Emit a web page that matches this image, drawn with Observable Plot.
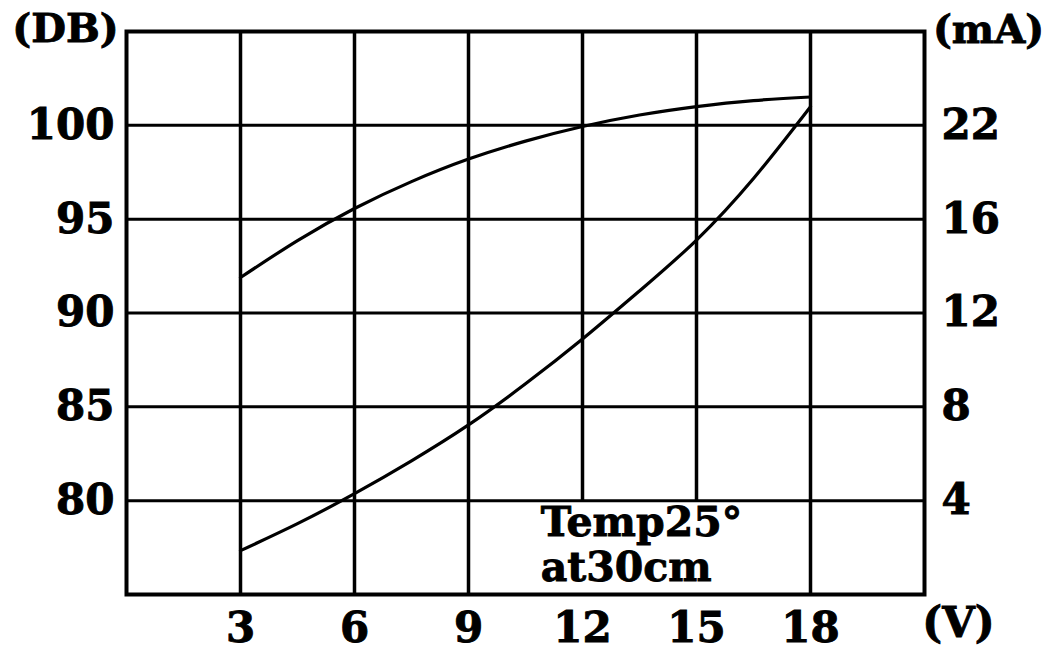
<!DOCTYPE html>
<html>
<head>
<meta charset="utf-8">
<script src="https://cdn.jsdelivr.net/npm/d3@7"></script>
<script src="https://cdn.jsdelivr.net/npm/@observablehq/plot@0.6"></script>
<style>
  html, body { margin: 0; padding: 0; background: #fff; }
  svg { display: block; }
  svg text { stroke: #000; stroke-width: 0.9px; }
</style>
</head>
<body>
<div id="chart"></div>
<script>
// ---- data ----
const volts = [3, 4.5, 6, 7.5, 9, 10.5, 12, 13.5, 15, 16.5, 18];
const splDb = [91.89, 93.86, 95.57, 97.0, 98.2, 99.16, 99.94, 100.55, 101.0, 101.32, 101.51];
const currentMa = [1.87, 3.02, 4.30, 5.70, 7.23, 8.98, 10.89, 12.94, 15.11, 18.6, 23.19];

const xTicks = [3, 6, 9, 12, 15, 18];
const dbTicks = [80, 85, 90, 95, 100];
const maTicks = [4, 8, 12, 16, 22];
const noteText = ["Temp25°", "at30cm"];
const unitLabels = { left: "(DB)", right: "(mA)", bottom: "(V)" };

// right-axis (mA) labels sit on the dB gridlines: piecewise mapping
const maToDb = d3.scaleLinear().domain([0, ...maTicks]).range([75, ...dbTicks]);
const dbToMa = new Map(dbTicks.map((d, i) => [d, maTicks[i]]));

const splData = volts.map((v, i) => ({ v, y: splDb[i] }));
const curData = volts.map((v, i) => ({ v, y: maToDb(currentMa[i]) }));

const FONT = "DejaVu Serif";
const FS = 42;

const chart = Plot.plot({
  width: 1058,
  height: 653,
  marginLeft: 126,
  marginRight: 134,
  marginTop: 31,
  marginBottom: 59,
  style: { fontFamily: FONT, fontWeight: "bold", fontSize: FS + "px", color: "#000", background: "#fff" },
  x: { domain: [0, 21] },
  y: { domain: [75, 105] },
  marks: [
    Plot.ruleX(xTicks, { stroke: "#000", strokeWidth: 3.5 }),
    Plot.rect([{ x1: 10.3, x2: 16.8, y1: 75, y2: 80 }], { x1: "x1", x2: "x2", y1: "y1", y2: "y2", fill: "#fff" }),
    Plot.ruleY(dbTicks, { stroke: "#000", strokeWidth: 3 }),
    Plot.frame({ stroke: "#000", strokeWidth: 4 }),
    Plot.line(splData, { x: "v", y: "y", curve: "natural", stroke: "#000", strokeWidth: 3.2 }),
    Plot.line(curData, { x: "v", y: "y", curve: "natural", stroke: "#000", strokeWidth: 3.2 }),
    Plot.axisX(xTicks, { anchor: "bottom", tickSize: 0, tickPadding: 18, fontSize: FS, fontWeight: "bold", fontFamily: FONT, label: null }),
    Plot.axisY(dbTicks, { anchor: "left", tickSize: 0, tickPadding: 12, fontSize: FS, fontWeight: "bold", fontFamily: FONT, label: null }),
    Plot.axisY(dbTicks, { anchor: "right", tickSize: 0, tickPadding: 17, tickFormat: d => dbToMa.get(d), fontSize: FS, fontWeight: "bold", fontFamily: FONT, label: null }),
    Plot.text([noteText.join("\n")], { x: () => 10.9, y: () => 77.7, text: d => d, textAnchor: "start", lineAnchor: "middle", lineHeight: 1.12, fontSize: 41, fontWeight: "bold", fontFamily: FONT }),
    Plot.text([unitLabels.left], { frameAnchor: "top-left", dx: -61, dy: -2, textAnchor: "middle", lineAnchor: "middle", fontSize: 40, fontWeight: "bold", fontFamily: FONT }),
    Plot.text([unitLabels.right], { frameAnchor: "top-right", dx: 64, dy: -1, textAnchor: "middle", lineAnchor: "middle", fontSize: 40, fontWeight: "bold", fontFamily: FONT }),
    Plot.text([unitLabels.bottom], { frameAnchor: "bottom-right", dx: 34, dy: 29, textAnchor: "middle", lineAnchor: "middle", fontSize: 42, fontWeight: "bold", fontFamily: FONT })
  ]
});
document.getElementById("chart").appendChild(chart);
</script>
</body>
</html>
